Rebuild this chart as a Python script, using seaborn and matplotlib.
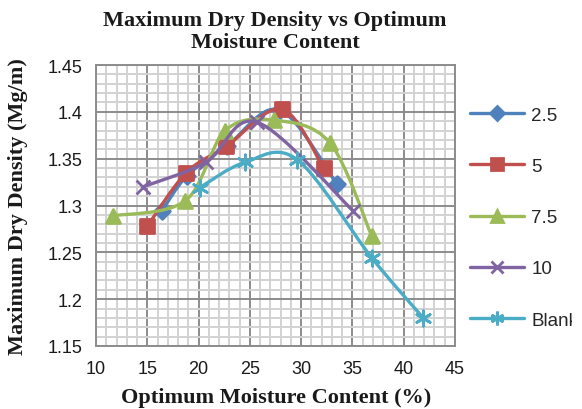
import numpy as np
import pandas as pd
import matplotlib
matplotlib.use("Agg")
import matplotlib.pyplot as plt
import seaborn as sns
from matplotlib.path import Path
from matplotlib.patches import PathPatch
from matplotlib.lines import Line2D
from matplotlib.transforms import Bbox

# Optimum moisture content (%) and maximum dry density (Mg/m) per mix
series_names = ["2.5", "5", "7.5", "10", "Blank"]

omc_25 = [16.4, 18.9, 22.8, 27.9, 33.5]
mdd_25 = [1.294, 1.332, 1.364, 1.402, 1.323]

omc_5 = [15.0, 18.8, 22.7, 28.1, 32.2]
mdd_5 = [1.278, 1.335, 1.363, 1.403, 1.340]

omc_75 = [11.7, 18.7, 22.6, 27.4, 32.8, 36.9]
mdd_75 = [1.289, 1.305, 1.380, 1.391, 1.367, 1.267]

omc_10 = [14.6, 20.7, 25.7, 35.1]
mdd_10 = [1.320, 1.346, 1.389, 1.294]

omc_blank = [20.1, 24.5, 29.6, 36.9, 41.9]
mdd_blank = [1.319, 1.346, 1.349, 1.244, 1.180]

x_ticks = [10, 15, 20, 25, 30, 35, 40, 45]
y_ticks = [1.15, 1.2, 1.25, 1.3, 1.35, 1.4, 1.45]
y_tick_labels = ["1.15", "1.2", "1.25", "1.3", "1.35", "1.4", "1.45"]

colors = ["#4F81BD", "#C0504D", "#9BBB59", "#8064A2", "#4BACC6"]
asterisk = (6, 2, 0)
markers = ["D", "s", "^", "x", asterisk]
msizes = [8, 10, 10, 10, 11]

frames = []
for name, xs, ys in zip(series_names,
                        [omc_25, omc_5, omc_75, omc_10, omc_blank],
                        [mdd_25, mdd_5, mdd_75, mdd_10, mdd_blank]):
    frames.append(pd.DataFrame({"omc": xs, "mdd": ys, "mix": name}))
df = pd.concat(frames, ignore_index=True)

sns.set_style("white")
plt.rcParams["font.family"] = ["Liberation Sans", "DejaVu Sans"]

fig = plt.figure(figsize=(5.82, 4.10), dpi=100)
ax = fig.add_axes([96 / 582, 1 - 347 / 410, (455 - 96) / 582, (347 - 66) / 410])


def smooth_path(xs, ys):
    """Bezier path through the points with Catmull-Rom style control points."""
    pts = np.column_stack([xs, ys]).astype(float)
    n = len(pts)
    verts = [pts[0]]
    codes = [Path.MOVETO]
    for i in range(n - 1):
        p0 = pts[i - 1] if i > 0 else pts[i]
        p1 = pts[i]
        p2 = pts[i + 1]
        p3 = pts[i + 2] if i + 2 < n else pts[i + 1]
        c1 = p1 + (p2 - p0) / 6.0
        c2 = p2 - (p3 - p1) / 6.0
        verts += [c1, c2, p2]
        codes += [Path.CURVE4] * 3
    return Path(verts, codes)


for i, name in enumerate(series_names):
    sub = df[df["mix"] == name]
    patch = PathPatch(smooth_path(sub["omc"].values, sub["mdd"].values),
                      facecolor="none", edgecolor=colors[i], lw=2.4,
                      zorder=3 + 2 * i, capstyle="round", joinstyle="round")
    ax.add_patch(patch)
    sns.scatterplot(data=sub, x="omc", y="mdd", ax=ax, color=colors[i],
                    marker=markers[i], s=msizes[i] ** 2,
                    edgecolor=colors[i], linewidth=2.0,
                    zorder=4 + 2 * i, legend=False)

ax.set_xlim(10, 45)
ax.set_ylim(1.15, 1.45)
ax.set_xticks(x_ticks)
ax.set_yticks(y_ticks)
ax.set_xticklabels([str(v) for v in x_ticks])
ax.set_yticklabels(y_tick_labels)
ax.set_xticks(np.arange(10, 46, 1), minor=True)
ax.set_yticks(np.arange(1.15, 1.4501, 0.01), minor=True)
ax.grid(which="minor", color="#d2d2d2", lw=1.4, zorder=0)
ax.grid(which="major", color="#8c8c8c", lw=1.4, zorder=1)
ax.set_axisbelow(True)
ax.tick_params(which="minor", length=0)
ax.tick_params(which="major", direction="out", length=6, width=1.4,
               color="#8c8c8c", labelsize=13, labelcolor="#1a1a1a", pad=4)
for side in ["left", "bottom", "top", "right"]:
    ax.spines[side].set_color("#8c8c8c")
    ax.spines[side].set_linewidth(1.4)
ax.set_xlabel("")
ax.set_ylabel("")

serif = ["Liberation Serif", "DejaVu Serif"]
fig.text(275 / 582, 1 - 32 / 410, "Maximum Dry Density vs Optimum\nMoisture Content",
         ha="center", va="center", fontsize=16, fontweight="bold",
         family=serif, linespacing=1.12, color="#1a1a1a")
fig.text(276 / 582, 1 - 398 / 410, "Optimum Moisture Content (%)",
         ha="center", va="center", fontsize=16, fontweight="bold",
         family=serif, color="#1a1a1a")
fig.text(18 / 582, 1 - 207 / 410, "Maximum Dry Density (Mg/m)",
         ha="center", va="center", rotation=90, fontsize=16,
         fontweight="bold", family=serif, color="#1a1a1a")

handles = [Line2D([], [], color=c, lw=2.4, marker=m, markersize=ms * 0.9,
                  markeredgewidth=2.0, markeredgecolor=c, markerfacecolor=c)
           for c, m, ms in zip(colors, markers, msizes)]
leg = fig.legend(handles, series_names, loc="upper left",
                 bbox_to_anchor=(462 / 582, 1 - 100 / 410), frameon=False,
                 fontsize=13.5, handlelength=2.9, handletextpad=0.4,
                 labelspacing=1.82, borderaxespad=0)
fig.canvas.draw()
clip = Bbox.from_extents(0, 0, 572, 410)
for t in leg.get_texts():
    t.set_clip_box(clip)
    t.set_clip_on(True)

fig.savefig("out.png", dpi=100)
